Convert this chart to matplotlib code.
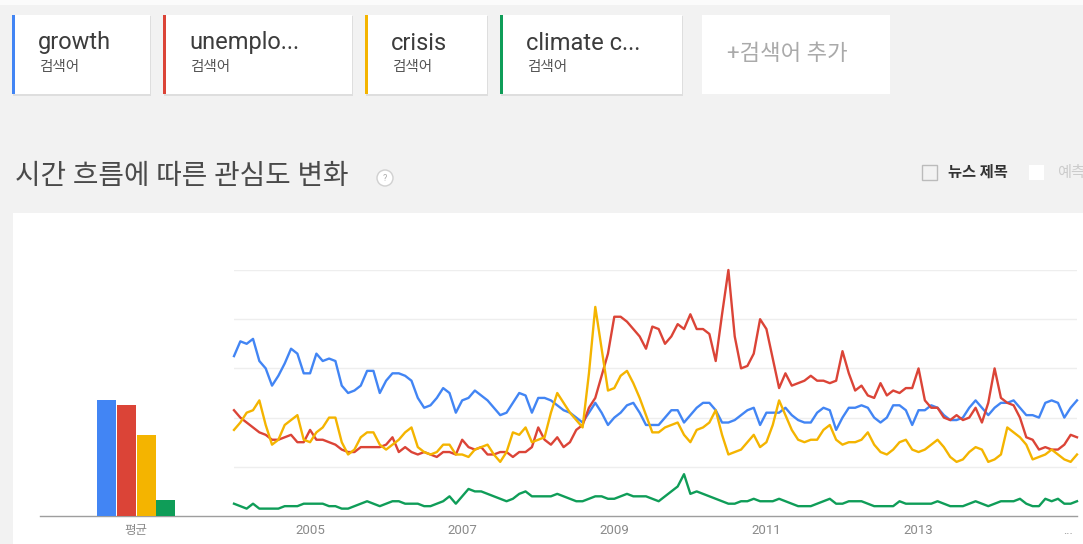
import numpy as np
import matplotlib.pyplot as plt
from matplotlib.patches import Rectangle, Circle

plt.rcParams['font.family'] = ['Roboto', 'Noto Sans CJK KR', 'DejaVu Sans']

W, H = 1083, 544

# search terms and their colours
terms = ['growth', 'unemplo...', 'crisis', 'climate c...']
colors = ['#4285f4', '#db4437', '#f4b400', '#0f9d58']

# average interest (bar group "평균")
averages = [47, 45, 33, 6.5]

# monthly interest, Jan 2004 .. Feb 2015
growth = [65, 71, 70, 72, 63, 60, 53, 57, 62, 68, 66, 58, 58, 66, 63, 64, 63, 53, 50, 51, 53, 59, 59, 50, 55, 58, 58,
          57, 55, 48, 44, 45, 48, 52, 50, 42, 47, 48, 51, 49, 47, 44, 41, 42, 46, 50, 49, 42, 48, 48, 47, 45, 43,
          42, 40, 38, 42, 46, 42, 37, 40, 42, 45, 46, 42, 37, 37, 37, 40, 43, 43, 38, 41, 44, 46, 46, 43, 38, 38, 39,
          41, 43, 44, 37, 42, 42, 42, 44, 41, 39, 38, 38, 42, 44, 43, 35, 40, 44, 44, 45, 44, 40, 38, 40, 45, 45, 43,
          37, 43, 43, 45, 44, 41, 39, 39, 40, 44, 47, 44, 41, 44, 46, 46, 47, 44, 41, 41, 40, 46, 47, 46, 40, 44, 47]

unemployment = [43, 40, 38, 36, 34, 33, 31, 31, 32, 33, 30, 30, 35, 31, 31, 30, 29, 27, 26, 26, 28, 28, 28, 28, 29, 32, 26,
                28, 26, 25, 26, 25, 24, 26, 26, 25, 31, 28, 27, 28, 25, 25, 26, 26, 24, 26, 26, 28, 36, 31, 29, 32, 28,
                30, 35, 37, 44, 48, 57, 66, 81, 81, 79, 76, 73, 68, 77, 76, 70, 73, 78, 76, 82, 76, 76, 74, 63, 82, 100, 73,
                60, 61, 66, 80, 76, 64, 52, 58, 53, 54, 55, 57, 55, 55, 54, 55, 67, 58, 51, 53, 49, 48, 54, 49, 51, 50, 52,
                52, 60, 47, 44, 44, 40, 39, 41, 39, 40, 44, 38, 46, 60, 48, 46, 45, 40, 32, 31, 27, 28, 27, 27, 29, 33, 32]

crisis = [35, 38, 42, 43, 47, 37, 29, 31, 37, 39, 41, 31, 30, 34, 36, 40, 40, 30, 25, 27, 32, 34, 34, 29, 27, 29, 31,
          34, 36, 28, 26, 25, 26, 29, 29, 25, 25, 24, 27, 28, 29, 25, 22, 26, 34, 33, 36, 30, 31, 32, 42, 50, 46,
          42, 39, 36, 58, 85, 68, 51, 52, 57, 59, 54, 48, 41, 34, 34, 36, 37, 38, 33, 30, 35, 36, 38, 43, 33, 25, 26,
          27, 30, 33, 28, 30, 37, 47, 41, 35, 31, 30, 31, 31, 35, 37, 31, 29, 30, 30, 31, 34, 29, 26, 25, 27, 30, 31,
          27, 26, 27, 29, 31, 28, 24, 22, 23, 26, 28, 27, 22, 23, 25, 36, 34, 32, 29, 23, 24, 25, 27, 25, 23, 22, 25]

climate = [5, 4, 3, 5, 3, 3, 3, 3, 4, 4, 4, 5, 5, 5, 5, 4, 4, 3, 3, 4, 5, 6, 5, 4, 5, 6, 6,
           5, 5, 5, 4, 4, 5, 6, 8, 5, 8, 11, 10, 10, 9, 8, 7, 6, 7, 9, 10, 8, 8, 8, 8, 9, 8,
           7, 6, 6, 7, 8, 8, 7, 7, 8, 9, 8, 8, 8, 7, 6, 8, 10, 12, 17, 9, 10, 9, 8, 7, 6, 5, 5,
           6, 6, 7, 6, 6, 6, 7, 6, 5, 4, 4, 4, 5, 6, 7, 5, 5, 6, 6, 6, 5, 4, 4, 4, 4, 6, 5,
           5, 5, 5, 5, 6, 5, 4, 4, 4, 5, 6, 5, 4, 5, 6, 6, 6, 7, 5, 4, 4, 7, 6, 7, 5, 5, 6]

series = [growth, unemployment, crisis, climate]
start_year = 2004
year_ticks = [2005, 2007, 2009, 2011, 2013]

fig = plt.figure(figsize=(W / 100, H / 100), dpi=100, facecolor='#f2f2f2')

# page canvas in pixel coordinates
bg = fig.add_axes([0, 0, 1, 1])
bg.set_xlim(0, W)
bg.set_ylim(H, 0)
bg.axis('off')
bg.add_patch(Rectangle((0, 0), W, 5, color='#fbfbfb', lw=0))

# term cards
cards = [(12, 150), (163, 352), (365, 487), (500, 682)]
for (x0, x1), t, c in zip(cards, terms, colors):
    bg.add_patch(Rectangle((x0 + 1, 16), x1 - x0, 80, color='#dedede', lw=0))
    bg.add_patch(Rectangle((x0, 15), x1 - x0, 79, color='white', lw=0))
    bg.add_patch(Rectangle((x0, 15), 3, 79, color=c, lw=0))
    bg.text(x0 + 26, 43, t, fontsize=17, color='#3c3c3c', va='center')
    bg.text(x0 + 27, 67, '검색어', fontsize=10.5, color='#555555', va='center')
bg.add_patch(Rectangle((702, 15), 188, 79, color='white', lw=0))
bg.text(727, 54, '+검색어 추가', fontsize=16, color='#aaaaaa', va='center')

# section title
bg.text(15, 177, '시간 흐름에 따른 관심도 변화', fontsize=20, color='#4a4a4a', va='center')
bg.add_patch(Circle((385, 178), 8, facecolor='white', edgecolor='#d0d0d0', lw=1))
bg.text(385, 178.5, '?', fontsize=6.5, color='#aaaaaa', ha='center', va='center')

bg.add_patch(Rectangle((922, 165), 15, 15, facecolor='none', edgecolor='#bbbbbb', lw=1))
bg.text(948, 173, '뉴스 제목', fontsize=11, color='#333333', va='center', fontweight='bold')
bg.add_patch(Rectangle((1029, 165), 15, 15, facecolor='white', edgecolor='none'))
bg.text(1057, 173, '예측', fontsize=11, color='#cccccc', va='center')

# white chart panel and baseline
bg.add_patch(Rectangle((13, 213), W - 13, H - 213, color='white', lw=0))
bg.plot([40, 1077], [516, 516], color='#9e9e9e', lw=1)
bg.text(1068, 530, '...', fontsize=9, color='#999999', ha='center', va='center')

# line chart
ax = fig.add_axes([234 / W, 1 - 516 / H, (1077 - 234) / W, (516 - 270) / H])
ax.set_facecolor('none')
x = start_year + np.arange(len(growth)) / 12
for s, c in zip(series, colors):
    ax.plot(x, s, color=c, lw=1.7, clip_on=False, solid_joinstyle='round')
ax.set_xlim(x[0], x[-1])
ax.set_ylim(0, 100)
ax.set_yticks([20, 40, 60, 80, 100])
ax.yaxis.grid(True, color='#eeeeee', lw=1)
ax.set_axisbelow(True)
ax.set_yticklabels([])
ax.tick_params(axis='y', length=0)
ax.set_xticks(year_ticks)
ax.set_xticklabels([str(y) for y in year_ticks], fontsize=9.5, color='#8a8a8a')
ax.tick_params(axis='x', length=0, pad=6)
for sp in ax.spines.values():
    sp.set_visible(False)

# average bars
bx = fig.add_axes([40 / W, 1 - 516 / H, (234 - 40) / W, (516 - 270) / H])
bx.set_facecolor('none')
bx.bar(range(len(averages)), averages, width=0.95, color=colors)
bx.set_xlim(-3.36, 6.44)
bx.set_ylim(0, 100)
bx.set_yticks([])
bx.set_xticks([1.5])
bx.set_xticklabels(['평균'], fontsize=9, color='#8a8a8a')
bx.tick_params(axis='x', length=0, pad=6)
for sp in bx.spines.values():
    sp.set_visible(False)

fig.savefig('out.png', dpi=100, facecolor=fig.get_facecolor())
